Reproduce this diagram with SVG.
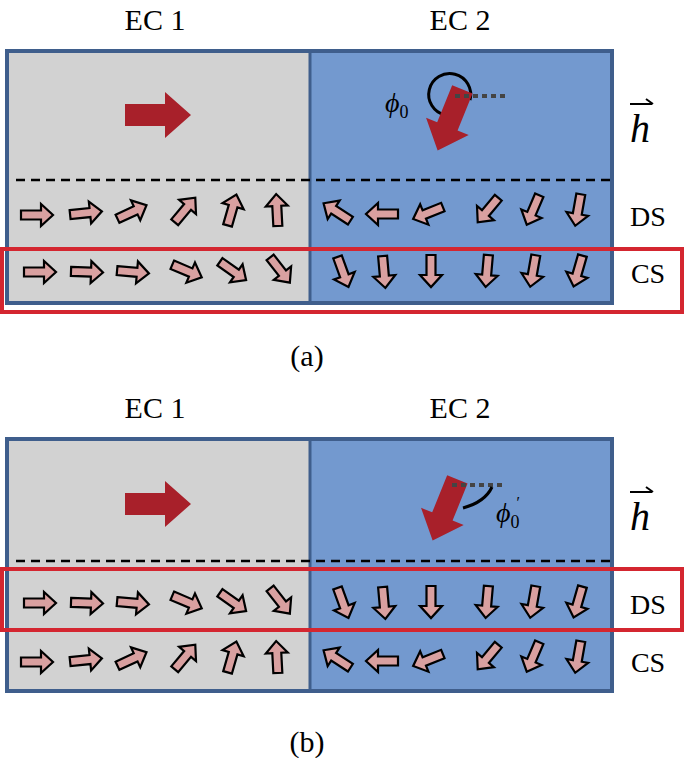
<svg xmlns="http://www.w3.org/2000/svg" xmlns:xlink="http://www.w3.org/1999/xlink" width="685" height="758" viewBox="0 0 685 758">
<style>
.t{font-family:"Liberation Serif",serif;fill:#000}
.sa{fill:#d9a0a0;stroke:#000;stroke-width:2.2}
.big{fill:#a8202a}
.ec1{fill:#d2d2d2}
.ec2{fill:#7399cf}
.frame{fill:none;stroke:#3f5e8c;stroke-width:4}
.red{fill:none;stroke:#d42630;stroke-width:4}
.dash{stroke:#000;stroke-width:2.5;stroke-dasharray:9,6}
.dot{stroke:#444;stroke-width:4;stroke-dasharray:5,4}
</style>
<defs>
<path id="s" class="sa" d="M-16,-4.5 H4 V-11 L16,0 L4,11 V4.5 H-16 Z"/>
<path id="B" class="big" d="M-33,-11 H7 V-23 L33,0 L7,23 V11 H-33 Z"/>
<g id="rowDS">
<use href="#s" transform="translate(37,215)"/>
<use href="#s" transform="translate(86,213) rotate(-6)"/>
<use href="#s" transform="translate(132,212) rotate(-25)"/>
<use href="#s" transform="translate(185,210) rotate(-50)"/>
<use href="#s" transform="translate(232,210) rotate(-74)"/>
<use href="#s" transform="translate(277,210) rotate(-93)"/>
<use href="#s" transform="translate(337,212) rotate(-147)"/>
<use href="#s" transform="translate(382,214) rotate(180)"/>
<use href="#s" transform="translate(428,213) rotate(158)"/>
<use href="#s" transform="translate(488,210) rotate(130)"/>
<use href="#s" transform="translate(533,210) rotate(113)"/>
<use href="#s" transform="translate(578,210) rotate(100)"/>
</g>
<g id="rowCS">
<use href="#s" transform="translate(40,0)"/>
<use href="#s" transform="translate(87,0) rotate(2)"/>
<use href="#s" transform="translate(133,0) rotate(5)"/>
<use href="#s" transform="translate(187,-1) rotate(23)"/>
<use href="#s" transform="translate(233,-1) rotate(35)"/>
<use href="#s" transform="translate(280,-2) rotate(52)"/>
<use href="#s" transform="translate(343,0) rotate(70)"/>
<use href="#s" transform="translate(384,0) rotate(85)"/>
<use href="#s" transform="translate(431,-1) rotate(90)"/>
<use href="#s" transform="translate(487,-1) rotate(95)"/>
<use href="#s" transform="translate(533,-1) rotate(100)"/>
<use href="#s" transform="translate(578,-1) rotate(106)"/>
</g>
</defs>
<g id="panelA">
<rect class="ec1" x="7" y="51" width="303" height="252"/>
<rect class="ec2" x="310" y="51" width="302" height="252"/>
<rect class="frame" x="7" y="51" width="605" height="252"/>
<line x1="310" y1="51" x2="310" y2="303" stroke="#3f5e8c" stroke-width="3"/>
<line class="dash" x1="16" y1="180" x2="612" y2="180"/>
<text class="t" x="155" y="30" font-size="30" text-anchor="middle">EC 1</text>
<text class="t" x="460" y="30" font-size="30" text-anchor="middle">EC 2</text>
<use href="#B" transform="translate(158,115)"/>
<path d="M470,100 A21,21 0 1 0 445,115" fill="none" stroke="#000" stroke-width="3"/>
<use href="#B" transform="translate(450,120) rotate(112)"/>
<line class="dot" x1="455" y1="96" x2="505" y2="96"/>
<text class="t" x="385" y="112" font-size="28" font-style="italic">ϕ<tspan font-size="18" font-style="normal" dy="6">0</tspan></text>
<use href="#rowDS"/>
<use href="#rowCS" transform="translate(0,272)"/>
<rect class="red" x="2" y="249" width="680" height="63"/>
<text class="t" x="648" y="226" font-size="28" text-anchor="middle">DS</text>
<text class="t" x="648" y="283" font-size="28" text-anchor="middle">CS</text>
<text class="t" x="640" y="142" font-size="40" font-style="italic" text-anchor="middle">h</text>
<path d="M630,104 H652 M646,99 L653,104" stroke="#000" stroke-width="2" fill="none"/>
<text class="t" x="307" y="366" font-size="30" text-anchor="middle">(a)</text>
</g>
<g id="panelB">
<rect class="ec1" x="7" y="439" width="303" height="252"/>
<rect class="ec2" x="310" y="439" width="302" height="252"/>
<rect class="frame" x="7" y="439" width="605" height="252"/>
<line x1="310" y1="439" x2="310" y2="691" stroke="#3f5e8c" stroke-width="3"/>
<line class="dash" x1="16" y1="561" x2="612" y2="561"/>
<text class="t" x="155" y="418" font-size="30" text-anchor="middle">EC 1</text>
<text class="t" x="460" y="418" font-size="30" text-anchor="middle">EC 2</text>
<use href="#B" transform="translate(158,504)"/>
<use href="#B" transform="translate(445,510) rotate(112)"/>
<line class="dot" x1="452" y1="485" x2="502" y2="485"/>
<path d="M492,487 Q485,502 463,508" fill="none" stroke="#000" stroke-width="3"/>
<text class="t" x="496" y="522" font-size="28" font-style="italic">ϕ<tspan font-size="18" font-style="normal" dy="6">0</tspan><tspan dy="-20" dx="-4" font-size="16">′</tspan></text>
<use href="#rowCS" transform="translate(0,603)"/>
<use href="#rowDS" transform="translate(0,447)"/>
<rect class="red" x="2" y="569" width="680" height="61"/>
<text class="t" x="648" y="614" font-size="28" text-anchor="middle">DS</text>
<text class="t" x="648" y="672" font-size="28" text-anchor="middle">CS</text>
<text class="t" x="640" y="530" font-size="40" font-style="italic" text-anchor="middle">h</text>
<path d="M630,492 H652 M646,487 L653,492" stroke="#000" stroke-width="2" fill="none"/>
<text class="t" x="307" y="752" font-size="30" text-anchor="middle">(b)</text>
</g>
</svg>
